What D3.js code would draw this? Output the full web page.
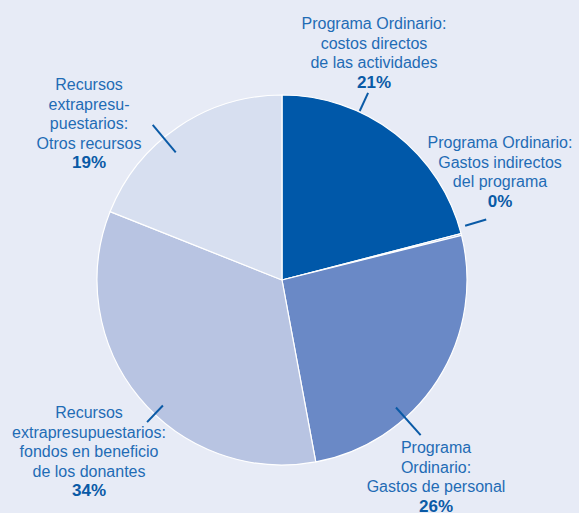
<!DOCTYPE html>
<html>
<head>
<meta charset="utf-8">
<script src="https://cdn.jsdelivr.net/npm/d3@7"></script>
<style>
  html, body { margin: 0; padding: 0; background: #e7ebf6; }
  svg { display: block; }
</style>
</head>
<body>
<svg id="chart" width="579" height="513"></svg>
<script>
// slice data, clockwise from 12 o'clock
const categories = [
  "Programa Ordinario: costos directos de las actividades",
  "Programa Ordinario: Gastos indirectos del programa",
  "Programa Ordinario: Gastos de personal",
  "Recursos extrapresupuestarios: fondos en beneficio de los donantes",
  "Recursos extrapresupuestarios: Otros recursos"
];
const values = [21, 0.15, 26, 34, 19];
const percentLabels = ["21%", "0%", "26%", "34%", "19%"];
const labelLines = [
  ["Programa Ordinario:", "costos directos", "de las actividades"],
  ["Programa Ordinario:", "Gastos indirectos", "del programa"],
  ["Programa", "Ordinario:", "Gastos de personal"],
  ["Recursos", "extrapresupuestarios:", "fondos en beneficio", "de los donantes"],
  ["Recursos", "extrapresu-", "puestarios:", "Otros recursos"]
];
const colors = ["#0058a9", "#7b97cf", "#6a89c6", "#b8c4e2", "#d7dff0"];

// label layout: text anchor + leader line (angle in degrees, inner/outer radius)
const labelPos = [
  { x: 374, y: 29, ang: 24.7, r0: 186, r1: 206 },
  { x: 500, y: 148, ang: 73.5, r0: 191, r1: 213 },
  { x: 436, y: 453, ang: 138.2, r0: 171, r1: 208 },
  { x: 89, y: 418, ang: 223.5, r0: 173, r1: 196 },
  { x: 89, y: 90, ang: 320.2, r0: 166, r1: 202 }
];

const width = 579, height = 513;
const cx = 282, cy = 280, radius = 185;

const svg = d3.select("#chart");

const pie = d3.pie().value(d => d).sort(null);
const arc = d3.arc().innerRadius(0).outerRadius(radius);

const g = svg.append("g").attr("transform", `translate(${cx},${cy})`);

g.selectAll("path.slice")
  .data(pie(values))
  .enter()
  .append("path")
  .attr("class", "slice")
  .attr("d", arc)
  .attr("fill", (d, i) => colors[i])
  .attr("stroke", "#ffffff")
  .attr("stroke-width", 1.2)
  .attr("stroke-linejoin", "round");

// leader lines
const polar = (a, r) => {
  const t = a * Math.PI / 180;
  return [r * Math.sin(t), -r * Math.cos(t)];
};
g.selectAll("line.leader")
  .data(labelPos)
  .enter()
  .append("line")
  .attr("class", "leader")
  .attr("x1", d => polar(d.ang, d.r0)[0])
  .attr("y1", d => polar(d.ang, d.r0)[1])
  .attr("x2", d => polar(d.ang, d.r1)[0])
  .attr("y2", d => polar(d.ang, d.r1)[1])
  .attr("stroke", "#0a5aa6")
  .attr("stroke-width", 2);

// labels
const lineH = 19.6;
labelLines.forEach((lines, i) => {
  const p = labelPos[i];
  const t = svg.append("text")
    .attr("x", p.x)
    .attr("y", p.y)
    .attr("text-anchor", "middle")
    .style("font-family", "'Liberation Sans', Arial, sans-serif")
    .style("font-size", "16px");
  lines.forEach((l, j) => {
    t.append("tspan")
      .attr("x", p.x)
      .attr("dy", j === 0 ? 0 : lineH)
      .attr("fill", "#1f6cb5")
      .text(l);
  });
  t.append("tspan")
    .attr("x", p.x)
    .attr("dy", lineH)
    .attr("fill", "#0a5aa6")
    .style("font-weight", "bold")
    .style("font-size", "17px")
    .text(percentLabels[i]);
});
</script>
</body>
</html>
